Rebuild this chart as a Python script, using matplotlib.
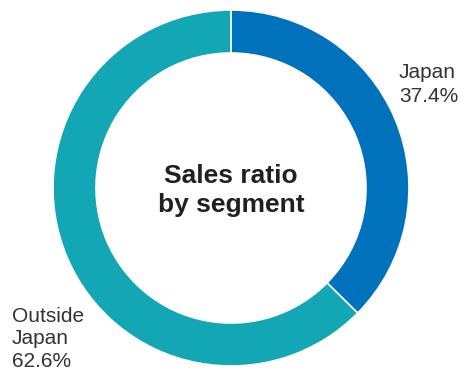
import matplotlib.pyplot as plt

segments = ["Japan", "Outside Japan"]
shares = [37.4, 62.6]
colors = ["#0071BB", "#13A6B4"]
title_lines = ["Sales ratio", "by segment"]

plt.rcParams['font.family'] = ['Liberation Sans', 'DejaVu Sans']

fig = plt.figure(figsize=(4.63, 3.70), dpi=100)
ax = fig.add_axes([0, 0, 1, 1])

ax.pie(shares, colors=colors, startangle=90, counterclock=False,
       center=(231, 182), radius=178,
       wedgeprops=dict(width=43, edgecolor='white', linewidth=1.2))
ax.set_xlim(0, 463)
ax.set_ylim(0, 370)
ax.set_aspect('equal')
ax.axis('off')

# centre title, one line at a time
for i, line in enumerate(title_lines):
    ax.text(231, 187 - i * 29, line, ha='center', va='baseline',
            fontsize=19, fontweight='bold', color='#231F20')

# Japan label (right)
jp_lines = [segments[0], f"{shares[0]}%"]
for i, line in enumerate(jp_lines):
    ax.text(399, 292 - i * 24, line, ha='left', va='baseline',
            fontsize=15, color='#333333')

# Outside Japan label (bottom left)
out_lines = segments[1].split(" ") + [f"{shares[1]}%"]
for i, line in enumerate(out_lines):
    ax.text(12, 48 - i * 22.5, line, ha='left', va='baseline',
            fontsize=15, color='#333333')

fig.savefig("out.png", dpi=100)
